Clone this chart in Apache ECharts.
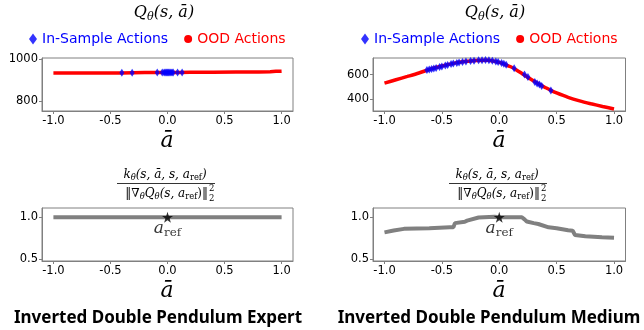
<!DOCTYPE html>
<html>
<head>
<meta charset="utf-8">
<script src="https://cdn.jsdelivr.net/npm/echarts@6/dist/echarts.min.js"></script>
<style>
  html, body { margin: 0; padding: 0; background: #fff; }
  #chart { width: 644px; height: 330px; }
</style>
</head>
<body>
<div id="chart"></div>
<script>
// tick labels
const xTicks = [-1.0, -0.5, 0.0, 0.5, 1.0];
const expertQTicks = [800, 1000];
const mediumQTicks = [400, 600];
const kTicks = [0.5, 1.0];

// Q(s, a) - expert
const expertOodA = [-1.0, -0.8, -0.6, -0.4, -0.3, -0.2, -0.1, 0.0, 0.1, 0.2, 0.4, 0.6, 0.8, 0.9, 0.95, 1.0];
const expertOodQ = [933, 933, 933, 933, 934, 935, 935, 936, 936, 937, 937, 938, 938, 939, 941, 942];
const expertInA = [-0.40, -0.31, -0.09, -0.046, -0.03, -0.02, -0.01, 0.0, 0.01, 0.02, 0.03, 0.04, 0.05, 0.088, 0.128];
const expertInQ = [934, 934, 935, 935, 936, 936, 936, 936, 936, 936, 936, 936, 936, 936, 936];

// Q(s, a) - medium
const mediumOodA = [-1.0, -0.9, -0.8, -0.7, -0.6, -0.5, -0.4, -0.3, -0.2, -0.1, 0.0, 0.05, 0.1, 0.15, 0.2, 0.25, 0.3, 0.35, 0.4, 0.45, 0.5, 0.6, 0.7, 0.8, 0.9, 1.0];
const mediumOodQ = [530, 558, 585, 613, 645, 670, 692, 707, 716, 718, 700, 683, 664, 638, 607, 577, 547, 520, 495, 471, 450, 414, 385, 361, 339, 319];
const mediumInA = [-0.63, -0.61, -0.59, -0.57, -0.55, -0.52, -0.50, -0.47, -0.45, -0.42, -0.40, -0.37, -0.35, -0.32, -0.29, -0.25, -0.22, -0.18, -0.15, -0.12, -0.09, -0.06, -0.03, -0.01, 0.02, 0.04, 0.06, 0.13, 0.22, 0.25, 0.31, 0.33, 0.35, 0.37, 0.45];
const mediumInQ = [637, 641, 646, 650, 655, 662, 667, 675, 679, 686, 690, 696, 700, 704, 708, 712, 714, 717, 718, 719, 718, 714, 708, 704, 695, 689, 680, 652, 600, 580, 540, 528, 518, 507, 470];

// normalised kernel
const expertKA = [-1.0, -0.5, 0.0, 0.5, 1.0];
const expertK = [1.0, 1.0, 1.0, 1.0, 1.0];
const mediumKA = [-1.0, -0.92, -0.83, -0.61, -0.43, -0.40, -0.386, -0.30, -0.28, -0.27, -0.18, -0.04, 0.0, 0.197, 0.22, 0.24, 0.30, 0.34, 0.345, 0.43, 0.50, 0.60, 0.64, 0.66, 0.75, 0.895, 1.0];
const mediumK = [0.82, 0.842, 0.862, 0.87, 0.88, 0.88, 0.93, 0.947, 0.96, 0.98, 0.997, 1.005, 1.0, 1.0, 0.975, 0.95, 0.93, 0.92, 0.9, 0.88, 0.87, 0.845, 0.84, 0.79, 0.775, 0.763, 0.757];
const refA = [0.0];
const refK = [1.0];

const zip = (a, b) => a.map((v, i) => [v, b[i]]);

const grey = '#808080';
const serif = 'DejaVu Serif';

function xAxisFor(gi) {
  return {
    type: 'value', gridIndex: gi, min: -1.1, max: 1.1,
    axisLine: { show: true, onZero: false, lineStyle: { color: grey } },
    axisTick: { show: true, length: 3, customValues: xTicks, lineStyle: { color: grey } },
    axisLabel: { color: '#000', fontSize: 11.5, fontFamily: 'DejaVu Sans', margin: 4,
      customValues: xTicks, formatter: v => v.toFixed(1) },
    splitLine: { show: false }
  };
}
function yAxisFor(gi, min, max, ticks, fmt) {
  return {
    type: 'value', gridIndex: gi, min: min, max: max,
    axisLine: { show: true, onZero: false, lineStyle: { color: grey } },
    axisTick: { show: true, length: 3, customValues: ticks, lineStyle: { color: grey } },
    axisLabel: { color: '#000', fontSize: 11.5, fontFamily: 'DejaVu Sans', margin: 4,
      customValues: ticks, formatter: fmt },
    splitLine: { show: false }
  };
}

const star = 'path://M50,0 L61.2,34.5 L97.6,34.5 L68.2,55.9 L79.4,90.5 L50,69.1 L20.6,90.5 L31.8,55.9 L2.4,34.5 L38.8,34.5 Z';

// rich styles for the maths text
function mathRich(size) {
  return {
    it: { fontFamily: serif, fontStyle: 'italic', fontSize: size, color: '#000' },
    rm: { fontFamily: serif, fontSize: size, color: '#000' },
    sub: { fontFamily: serif, fontStyle: 'italic', fontSize: size * 0.7, color: '#000', padding: [size * 0.55, 0, 0, 0] },
    subrm: { fontFamily: serif, fontSize: size * 0.7, color: '#000', padding: [size * 0.55, 0, 0, 0] }
  };
}

function starSeries(xi) {
  return {
    type: 'scatter', xAxisIndex: xi, yAxisIndex: xi, data: zip(refA, refK),
    symbol: star, symbolSize: 11, itemStyle: { color: '#000' }, z: 5,
    label: {
      show: true, position: 'bottom', distance: 0, offset: [0, -5],
      formatter: '{it|a}{subrm|ref}', rich: mathRich(17)
    }
  };
}

function legendFor(left) {
  return {
    left: left, top: 32, padding: 0, itemWidth: 8, itemHeight: 11, itemGap: 16, selectedMode: false,
    textStyle: { fontSize: 14, fontFamily: 'DejaVu Sans' },
    data: [
      { name: 'In-Sample Actions', icon: 'diamond', textStyle: { color: '#0000ff' } },
      { name: 'OOD Actions', icon: 'circle', textStyle: { color: '#ff0000' } }
    ]
  };
}

function texts(cx, cxTitle, cxSup, sup) {
  const numY = 175, denY = 194;
  return [
    { type: 'text', x: cxTitle, y: 13, style: { text: '{it|Q}{sub|θ}{it|(s, ā)}', rich: mathRich(16), align: 'center', verticalAlign: 'middle' } },
    { type: 'text', x: cx, y: 141, style: { text: 'ā', font: 'italic 22px "DejaVu Serif"', fill: '#000', align: 'center', verticalAlign: 'middle' } },
    { type: 'text', x: cx, y: 291, style: { text: 'ā', font: 'italic 22px "DejaVu Serif"', fill: '#000', align: 'center', verticalAlign: 'middle' } },
    { type: 'text', x: cx - 2, y: numY, style: { text: '{it|k}{sub|θ}{it|(s, ā, s, a}{subrm|ref}{it|)}', rich: mathRich(12), align: 'center', verticalAlign: 'middle' } },
    { type: 'line', shape: { x1: cx - 50, y1: 183.5, x2: cx + 48, y2: 183.5 }, style: { stroke: '#000', lineWidth: 0.8 } },
    { type: 'text', x: cx + 41, y: denY, style: { text: '{rm|‖∇}{sub|θ}{it|Q}{sub|θ}{it|(s, a}{subrm|ref}{rm|)‖}', rich: mathRich(12), align: 'right', verticalAlign: 'middle' } },
    { type: 'text', x: cx + 42, y: denY - 5, style: { text: '2', font: '8.5px "DejaVu Serif"', fill: '#000', align: 'left', verticalAlign: 'middle' } },
    { type: 'text', x: cx + 42, y: denY + 5, style: { text: '2', font: '8.5px "DejaVu Serif"', fill: '#000', align: 'left', verticalAlign: 'middle' } },
    { type: 'text', x: cxSup, y: 318, style: { text: sup, font: 'bold 17px "Noto Sans"', fill: '#000', align: 'center', verticalAlign: 'middle' } }
  ];
}

const chart = echarts.init(document.getElementById('chart'));
const option = {
  animation: false,
  backgroundColor: '#fff',
  legend: [legendFor(29), legendFor(361)],
  grid: [
    { left: 42, top: 58, width: 251, height: 53, show: true, borderColor: grey, borderWidth: 1 },
    { left: 373, top: 58, width: 252.5, height: 53, show: true, borderColor: grey, borderWidth: 1 },
    { left: 42, top: 208, width: 251, height: 53, show: true, borderColor: grey, borderWidth: 1 },
    { left: 373, top: 208, width: 252.5, height: 53, show: true, borderColor: grey, borderWidth: 1 }
  ],
  xAxis: [xAxisFor(0), xAxisFor(1), xAxisFor(2), xAxisFor(3)],
  yAxis: [
    yAxisFor(0, 751, 1005, expertQTicks, v => String(v)),
    yAxisFor(1, 302, 736, mediumQTicks, v => String(v)),
    yAxisFor(2, 0.48, 1.11, kTicks, v => v.toFixed(1)),
    yAxisFor(3, 0.48, 1.11, kTicks, v => v.toFixed(1))
  ],
  series: [
    { name: 'OOD Actions', type: 'line', xAxisIndex: 0, yAxisIndex: 0, data: zip(expertOodA, expertOodQ),
      showSymbol: false, lineStyle: { color: '#ff0000', width: 3.5 }, itemStyle: { color: '#ff0000' }, z: 2 },
    { name: 'In-Sample Actions', type: 'scatter', xAxisIndex: 0, yAxisIndex: 0, data: zip(expertInA, expertInQ),
      symbol: 'diamond', symbolSize: [5, 8], itemStyle: { color: '#0000ff' }, z: 3 },
    { name: 'OOD Actions', type: 'line', xAxisIndex: 1, yAxisIndex: 1, data: zip(mediumOodA, mediumOodQ),
      showSymbol: false, smooth: 0.3, lineStyle: { color: '#ff0000', width: 3.5 }, itemStyle: { color: '#ff0000' }, z: 2 },
    { name: 'In-Sample Actions', type: 'scatter', xAxisIndex: 1, yAxisIndex: 1, data: zip(mediumInA, mediumInQ),
      symbol: 'diamond', symbolSize: [5, 8], itemStyle: { color: '#0000ff' }, z: 3 },
    { type: 'line', xAxisIndex: 2, yAxisIndex: 2, data: zip(expertKA, expertK),
      showSymbol: false, lineStyle: { color: grey, width: 4 }, z: 2 },
    starSeries(2),
    { type: 'line', xAxisIndex: 3, yAxisIndex: 3, data: zip(mediumKA, mediumK),
      showSymbol: false, lineStyle: { color: grey, width: 4 }, z: 2 },
    starSeries(3)
  ],
  graphic: texts(167, 164, 158, 'Inverted Double Pendulum Expert')
    .concat(texts(499, 495, 489, 'Inverted Double Pendulum Medium'))
};
chart.setOption(option);
</script>
</body>
</html>
